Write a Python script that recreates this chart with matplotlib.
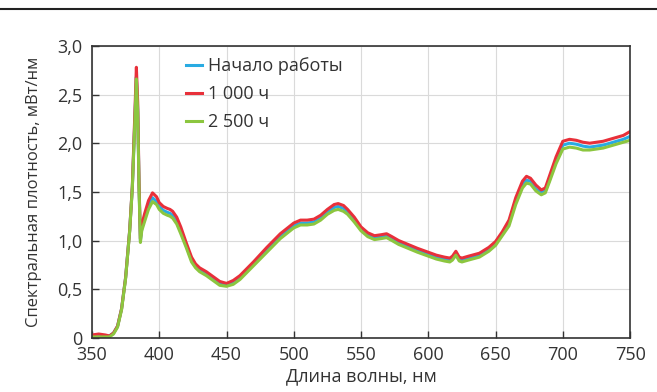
import matplotlib
matplotlib.use("Agg")
import matplotlib.pyplot as plt
from matplotlib.lines import Line2D
from matplotlib.ticker import FuncFormatter

plt.rcParams['font.family'] = ['Open Sans', 'DejaVu Sans']

# длины волн, нм
wl = [350, 355, 360, 363, 366, 369, 372, 375, 378, 380, 382, 383, 384, 385, 386,
      387, 389, 392, 395, 398, 400, 403, 406, 408, 410, 413, 416, 420, 424, 427,
      430, 435, 440, 445, 450, 455, 460, 465, 470, 480, 490, 500, 505, 510, 515,
      520, 525, 530, 533, 537, 540, 545, 550, 555, 560, 565, 569, 573, 578, 585,
      592, 600, 606, 612, 616, 618, 620.5, 623, 625, 630, 638, 645, 650, 655, 660,
      665, 670, 673, 676, 680, 684, 687, 690, 695, 700, 705, 710, 715, 720, 725,
      730, 735, 740, 745, 750]

# Начало работы
start = [0.02, 0.03, 0.02, 0.02, 0.05, 0.12, 0.30, 0.62, 1.10, 1.55, 2.30, 2.68, 2.35, 1.55, 1.00,
         1.12, 1.22, 1.36, 1.44, 1.40, 1.35, 1.31, 1.29, 1.28, 1.26, 1.20, 1.10, 0.95, 0.80, 0.74,
         0.70, 0.66, 0.61, 0.56, 0.545, 0.57, 0.62, 0.69, 0.76, 0.90, 1.04, 1.15, 1.18, 1.18, 1.19,
         1.23, 1.29, 1.34, 1.35, 1.33, 1.29, 1.21, 1.12, 1.06, 1.03, 1.04, 1.05, 1.02, 0.98, 0.94,
         0.90, 0.86, 0.83, 0.81, 0.80, 0.82, 0.87, 0.81, 0.80, 0.82, 0.85, 0.91, 0.97, 1.07, 1.18,
         1.41, 1.58, 1.62, 1.61, 1.53, 1.49, 1.51, 1.62, 1.82, 1.98, 2.00, 1.99, 1.97, 1.96, 1.97,
         1.98, 2.00, 2.02, 2.04, 2.07]

# 1 000 ч
h1000 = [0.03, 0.04, 0.03, 0.02, 0.05, 0.12, 0.30, 0.62, 1.10, 1.56, 2.36, 2.78, 2.42, 1.58, 1.02,
         1.16, 1.27, 1.41, 1.49, 1.45, 1.39, 1.35, 1.33, 1.32, 1.30, 1.24, 1.14, 0.98, 0.83, 0.76,
         0.72, 0.68, 0.63, 0.58, 0.56, 0.59, 0.64, 0.71, 0.78, 0.93, 1.07, 1.18, 1.21, 1.21, 1.22,
         1.26, 1.32, 1.37, 1.38, 1.36, 1.32, 1.24, 1.14, 1.08, 1.05, 1.06, 1.07, 1.04, 1.00, 0.96,
         0.92, 0.88, 0.85, 0.83, 0.82, 0.84, 0.89, 0.83, 0.82, 0.84, 0.87, 0.93, 0.99, 1.09, 1.21,
         1.44, 1.61, 1.66, 1.64, 1.57, 1.52, 1.54, 1.66, 1.86, 2.02, 2.04, 2.03, 2.01, 2.00, 2.01,
         2.02, 2.04, 2.06, 2.08, 2.12]

# 2 500 ч
h2500 = [0.01, 0.01, 0.01, 0.01, 0.04, 0.11, 0.29, 0.61, 1.09, 1.54, 2.26, 2.66, 2.30, 1.52, 0.98,
         1.10, 1.19, 1.32, 1.40, 1.37, 1.32, 1.28, 1.26, 1.25, 1.23, 1.17, 1.07, 0.93, 0.78, 0.72,
         0.68, 0.64, 0.59, 0.54, 0.53, 0.55, 0.60, 0.67, 0.74, 0.88, 1.02, 1.13, 1.16, 1.16, 1.17,
         1.21, 1.27, 1.31, 1.32, 1.30, 1.27, 1.19, 1.10, 1.04, 1.01, 1.02, 1.03, 1.00, 0.96, 0.92,
         0.88, 0.84, 0.81, 0.79, 0.78, 0.80, 0.85, 0.79, 0.78, 0.80, 0.83, 0.89, 0.95, 1.05, 1.15,
         1.37, 1.54, 1.59, 1.58, 1.51, 1.47, 1.49, 1.60, 1.79, 1.94, 1.96, 1.95, 1.93, 1.93, 1.94,
         1.95, 1.97, 1.99, 2.01, 2.03]

labels = ["Начало работы", "1 000 ч", "2 500 ч"]
colors = ["#29abe2", "#e8303a", "#8cc63f"]
xticks = [350, 400, 450, 500, 550, 600, 650, 700, 750]
yticks = [0, 0.5, 1.0, 1.5, 2.0, 2.5, 3.0]

text_c = "#333333"

fig = plt.figure(figsize=(6.57, 3.92), dpi=100)
ax = fig.add_axes([0.140, 0.138, 0.819, 0.745])

for y, lab, c in zip([start, h1000, h2500], labels, colors):
    ax.plot(wl, y, color=c, lw=2.2, label=lab, solid_joinstyle='round')

ax.set_xlim(350, 750)
ax.set_ylim(0, 3.0)
ax.set_xticks(xticks)
ax.set_yticks(yticks)
ax.yaxis.set_major_formatter(FuncFormatter(
    lambda v, p: "0" if v == 0 else f"{v:.1f}".replace(".", ",")))
ax.grid(True, color="#dadada", lw=0.8)
ax.set_axisbelow(True)
ax.tick_params(direction='in', length=5, width=1, colors=text_c,
               labelsize=13, pad=7)
ax.tick_params(axis='x', pad=6)
for s in ax.spines.values():
    s.set_color("#333333")
    s.set_linewidth(1.2)

ax.set_xlabel("Длина волны, нм", fontsize=13, color=text_c, labelpad=2)
ax.set_ylabel("Спектральная плотность, мВт/нм", fontsize=12, color=text_c,
              labelpad=11)

leg = ax.legend(loc='upper left', bbox_to_anchor=(0.161, 0.985), frameon=False,
                fontsize=13, handlelength=0.9, handletextpad=0.33,
                labelspacing=0.55, borderaxespad=0)
for t in leg.get_texts():
    t.set_color(text_c)

fig.add_artist(Line2D([0, 1], [0.977, 0.977], color="#222222", lw=1.5))

fig.savefig("out.png", dpi=100)
